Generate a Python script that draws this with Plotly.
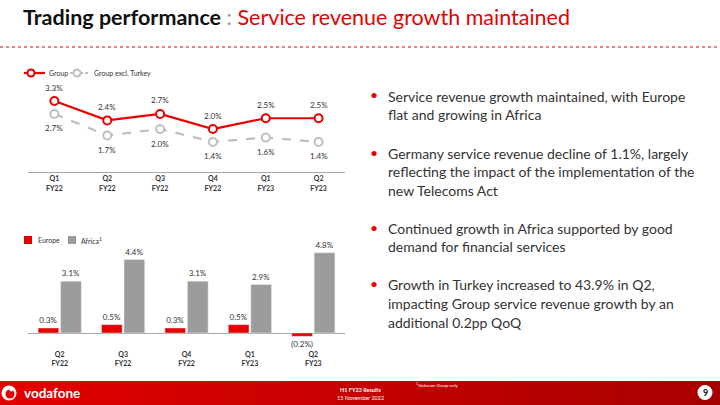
import plotly.graph_objects as go

# ---------------- data ----------------
line_categories = ["Q1<br>FY22", "Q2<br>FY22", "Q3<br>FY22", "Q4<br>FY22", "Q1<br>FY23", "Q2<br>FY23"]
group_growth = [3.3, 2.4, 2.7, 2.0, 2.5, 2.5]
group_excl_turkey = [2.7, 1.7, 2.0, 1.4, 1.6, 1.4]

bar_categories = ["Q2<br>FY22", "Q3<br>FY22", "Q4<br>FY22", "Q1<br>FY23", "Q2<br>FY23"]
europe_growth = [0.3, 0.5, 0.3, 0.5, -0.2]
africa_growth = [3.1, 4.4, 3.1, 2.9, 4.8]

bullets = [
    ["Service revenue growth maintained, with Europe", "flat and growing in Africa"],
    ["Germany service revenue decline of 1.1%, largely",
     "reflecting the impact of the implementation of the", "new Telecoms Act"],
    ["Continued growth in Africa supported by good", "demand for financial services"],
    ["Growth in Turkey increased to 43.9% in Q2,",
     "impacting Group service revenue growth by an", "additional 0.2pp QoQ"],
]


def pct(v):
    return f"({abs(v):.1f}%)" if v < 0 else f"{v:.1f}%"


W, H = 720, 405
RED = "#e60000"
GREY_LINE = "#bfbfbf"
GREY_BAR = "#9b9c9c"
TXT = "#333333"
FONT = "Lato"


def px(x):
    return x / W


def py(y):
    return 1 - y / H


fig = go.Figure()

# line chart
xs_line = list(range(len(line_categories)))
fig.add_trace(go.Scatter(
    x=xs_line, y=group_growth, name="Group", mode="lines+markers",
    line=dict(color=RED, width=2.2),
    marker=dict(size=8, color="white", line=dict(color=RED, width=2)),
    cliponaxis=False, xaxis="x", yaxis="y"))
fig.add_trace(go.Scatter(
    x=xs_line, y=group_excl_turkey, name="Group excl. Turkey", mode="lines+markers",
    line=dict(color=GREY_LINE, width=2.2, dash="dash"),
    marker=dict(size=8, color="white", line=dict(color=GREY_LINE, width=2)),
    cliponaxis=False, xaxis="x", yaxis="y"))

# bar chart
xs_bar = list(range(len(bar_categories)))
fig.add_trace(go.Bar(
    x=xs_bar, y=europe_growth, name="Europe",
    marker=dict(color=RED), text=[pct(v) for v in europe_growth],
    textposition="outside", constraintext="none",
    textfont=dict(size=8, color=TXT, family=FONT),
    cliponaxis=False, xaxis="x2", yaxis="y2"))
fig.add_trace(go.Bar(
    x=xs_bar, y=africa_growth, name="Africa\u00b9",
    marker=dict(color=GREY_BAR), text=[pct(v) for v in africa_growth],
    textposition="outside", constraintext="none",
    textfont=dict(size=8, color=TXT, family=FONT),
    cliponaxis=False, xaxis="x2", yaxis="y2"))

tickfont = dict(size=7, color=TXT, family=FONT)
line_ticktext = ["<b>" + c.replace("<br>", "</b><br><b>") + "</b>" for c in line_categories]
bar_ticktext = ["<b>" + c.replace("<br>", "</b><br><b>") + "</b>" for c in bar_categories]

line_top, line_zero, line_ppu = 80, 172, 21.5
bar_top, bar_zero, bar_bottom, bar_ppu = 245, 333, 349, 16.7

fig.update_layout(
    width=W, height=H, margin=dict(l=0, r=0, t=0, b=0),
    paper_bgcolor="white", plot_bgcolor="white",
    font=dict(family=FONT, color=TXT),
    barmode="group", bargap=0.29, bargroupgap=0.08,
    showlegend=False,
    xaxis=dict(domain=[px(28), px(345)], range=[-0.5, len(line_categories) - 0.5],
               tickmode="array", tickvals=xs_line, ticktext=line_ticktext,
               tickfont=tickfont, showline=True, linecolor="#a6a6a6", linewidth=1,
               showgrid=False, zeroline=False, ticks="", fixedrange=True),
    yaxis=dict(domain=[py(line_zero), py(line_top)], range=[0, (line_zero - line_top) / line_ppu],
               visible=False, fixedrange=True),
    xaxis2=dict(domain=[px(28), px(345)], range=[-0.5, len(bar_categories) - 0.5], anchor="y2",
                tickmode="array", tickvals=xs_bar, ticktext=bar_ticktext,
                tickfont=tickfont, showline=False, showgrid=False, zeroline=False, ticks="",
                fixedrange=True),
    yaxis2=dict(domain=[py(bar_bottom), py(bar_top)],
                range=[-(bar_bottom - bar_zero) / bar_ppu, (bar_zero - bar_top) / bar_ppu],
                showticklabels=False, showgrid=False, zeroline=True, zerolinecolor="#a6a6a6",
                zerolinewidth=1, fixedrange=True),
)

shapes = []
annotations = []

# line chart value labels
for xv, yv in zip(xs_line, group_growth):
    annotations.append(dict(x=xv, y=yv, xref="x", yref="y", text=pct(yv), showarrow=False,
                            yshift=13.5, font=dict(size=8, color=TXT, family=FONT)))
for xv, yv in zip(xs_line, group_excl_turkey):
    annotations.append(dict(x=xv, y=yv, xref="x", yref="y", text=pct(yv), showarrow=False,
                            yshift=-14.5, font=dict(size=8, color=TXT, family=FONT)))

# manual legends
legfont = dict(size=7, color=TXT, family=FONT)
for (x0, x1, cx, col, dash, label, tx) in [
        (24, 45, 31, RED, "solid", "Group", 47),
        (70, 90, 77, GREY_LINE, "3px,2px", "Group excl. Turkey", 92)]:
    shapes.append(dict(type="line", xref="paper", yref="paper", x0=px(x0), x1=px(x1),
                       y0=py(73), y1=py(73), line=dict(color=col, width=2.2, dash=dash)))
    shapes.append(dict(type="circle", xref="paper", yref="paper", x0=px(cx - 3.5), x1=px(cx + 3.5),
                       y0=py(76.5), y1=py(69.5), fillcolor="white", line=dict(color=col, width=2)))
    annotations.append(dict(xref="paper", yref="paper", x=px(tx), y=py(73), xanchor="left",
                            yanchor="middle", showarrow=False, text=label, font=legfont))
for (x0, col, label, tx) in [(24, RED, "Europe", 36), (68, GREY_BAR, "Africa<sup>1</sup>", 79)]:
    shapes.append(dict(type="rect", xref="paper", yref="paper", x0=px(x0), x1=px(x0 + 8),
                       y0=py(244), y1=py(236), fillcolor=col, line=dict(width=0)))
    annotations.append(dict(xref="paper", yref="paper", x=px(tx), y=py(240), xanchor="left",
                            yanchor="middle", showarrow=False, text=label, font=legfont))

# title
annotations.append(dict(
    xref="paper", yref="paper", x=px(21), y=py(17), xanchor="left", yanchor="middle",
    showarrow=False,
    text="<b>Trading performance</b> <span style='color:#9a9a9a'>:</span> "
         "<span style='color:#e60000'>Service revenue growth maintained</span>",
    font=dict(size=21.5, color="#111111", family=FONT)))
shapes.append(dict(type="line", xref="paper", yref="paper", x0=0, x1=1, y0=py(47), y1=py(47),
                   line=dict(color=RED, width=1, dash="dot")))

# bullets
line_ys = [[96, 115], [153, 171.5, 190], [228.5, 247], [284, 303, 322]]
for lines, ys in zip(bullets, line_ys):
    annotations.append(dict(xref="paper", yref="paper", x=px(374), y=py(ys[0] - 1),
                            xanchor="center", yanchor="middle", showarrow=False, text="\u2022",
                            font=dict(size=14, color=RED, family=FONT)))
    for t, yy in zip(lines, ys):
        annotations.append(dict(xref="paper", yref="paper", x=px(386), y=py(yy),
                                xanchor="left", yanchor="middle", showarrow=False, text=t,
                                font=dict(size=14, color=TXT, family=FONT)))

# footer band (horizontal gradient approximated with strips)
n = 36
c0 = (0xe2, 0x00, 0x00)
c1 = (0xa8, 0x00, 0x00)
for i in range(n):
    f = i / (n - 1)
    col = "rgb({},{},{})".format(*[int(a + (b - a) * f) for a, b in zip(c0, c1)])
    shapes.append(dict(type="rect", xref="paper", yref="paper", x0=i / n, x1=(i + 1) / n + 0.001,
                       y0=0, y1=py(381), fillcolor=col, line=dict(width=0), layer="below"))

# vodafone logo
shapes.append(dict(type="circle", xref="paper", yref="paper", x0=px(1.5), x1=px(16.5),
                   y0=py(400.5), y1=py(385.5), fillcolor="white", line=dict(width=0)))
shapes.append(dict(type="circle", xref="paper", yref="paper", x0=px(5.5), x1=px(14.5),
                   y0=py(398.5), y1=py(389.5), fillcolor=RED, line=dict(width=0)))
shapes.append(dict(type="circle", xref="paper", yref="paper", x0=px(9.5), x1=px(13),
                   y0=py(391.5), y1=py(388), fillcolor="white", line=dict(width=0)))
annotations.append(dict(xref="paper", yref="paper", x=px(22), y=py(392.5), xanchor="left",
                        yanchor="middle", showarrow=False, text="<b>vodafone</b>",
                        font=dict(size=13.5, color="white", family=FONT)))
annotations.append(dict(xref="paper", yref="paper", x=px(360), y=py(390), xanchor="center",
                        yanchor="middle", showarrow=False, text="<b>H1 FY23 Results</b>",
                        font=dict(size=5.5, color="white", family=FONT)))
annotations.append(dict(xref="paper", yref="paper", x=px(360), y=py(397.5), xanchor="center",
                        yanchor="middle", showarrow=False, text="15 November 2022",
                        font=dict(size=5.5, color="white", family=FONT)))
annotations.append(dict(xref="paper", yref="paper", x=px(414), y=py(385), xanchor="left",
                        yanchor="middle", showarrow=False, text="<i><sup>1</sup>Vodacom Group only</i>",
                        font=dict(size=4.6, color="white", family=FONT)))
# page number
shapes.append(dict(type="circle", xref="paper", yref="paper", x0=px(697.5), x1=px(712.5),
                   y0=py(400), y1=py(385), fillcolor="white", line=dict(width=0)))
annotations.append(dict(xref="paper", yref="paper", x=px(705), y=py(392.5), xanchor="center",
                        yanchor="middle", showarrow=False, text="<b>9</b>",
                        font=dict(size=9, color="#111111", family=FONT)))

fig.update_layout(shapes=shapes, annotations=annotations)

fig.write_html("out.html", config={"displayModeBar": False},
               post_script="document.body.style.margin='0';document.body.style.overflow='hidden';")
